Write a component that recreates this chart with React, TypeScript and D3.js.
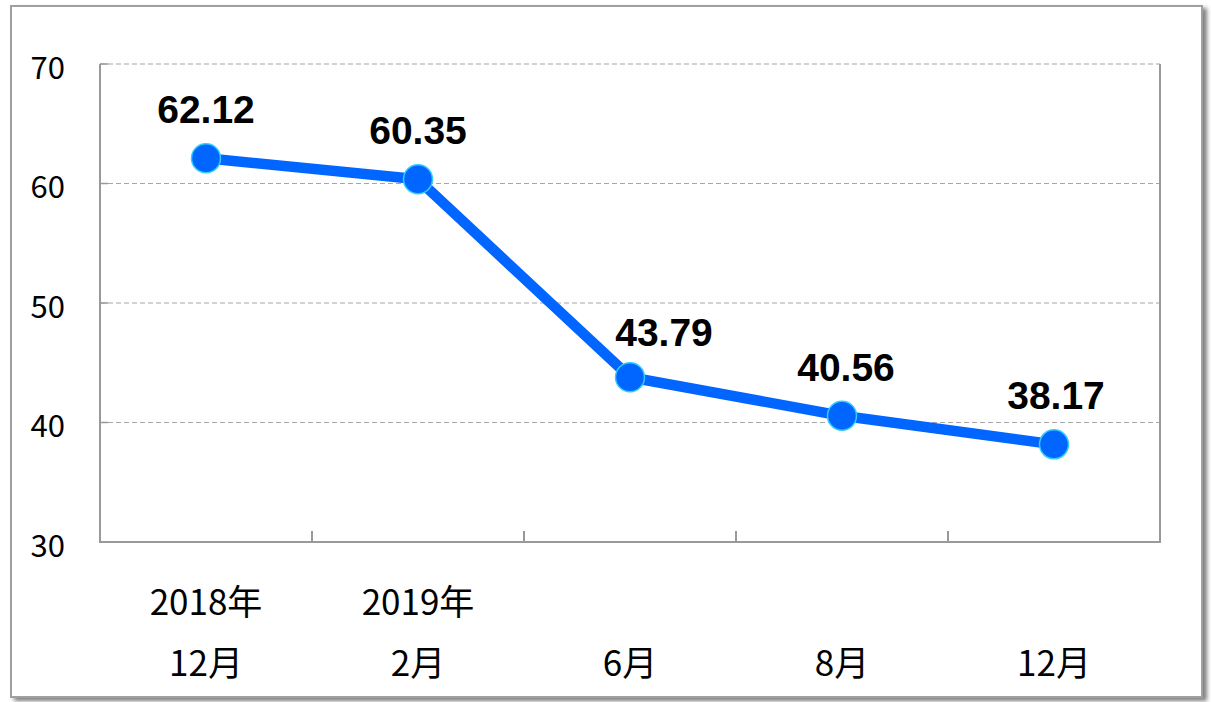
import React from "react";
import * as d3 from "d3";

const categoriesTop = ["2018年", "2019年", "", "", ""];
const categoriesBottom = ["12月", "2月", "6月", "8月", "12月"];
const values = [62.12, 60.35, 43.79, 40.56, 38.17];
const yTicks = [30, 40, 50, 60, 70];

const W = 1211;
const H = 702;
const plot = { left: 100, right: 1160, top: 64, bottom: 542 };
const labelNudgeX = [0, 0, 34, 4, 2];
const labelNudgeY = [-35, -35, -31, -35, -35];

export default function App() {
  const idx = values.map((_, i) => i);
  const x = d3.scaleBand<number>().domain(idx).range([plot.left, plot.right]);
  const y = d3.scaleLinear().domain([30, 70]).range([plot.bottom, plot.top]);
  const cx = (i: number) => (x(i) as number) + x.bandwidth() / 2;
  const line = d3
    .line<number>()
    .x((_, i) => cx(i))
    .y((d) => y(d));
  const boundaries = idx.slice(1).map((i) => x(i) as number);
  const axisFont = "'Noto Sans CJK TC', 'Noto Sans', sans-serif";

  return (
    <svg
      width={W}
      height={H}
      style={{ position: "absolute", left: 0, top: 0, display: "block" }}
    >
      <defs>
        <filter id="shadow" x="-5%" y="-5%" width="110%" height="110%">
          <feDropShadow dx="4" dy="3" stdDeviation="2" floodColor="#000" floodOpacity="0.5" />
        </filter>
      </defs>
      <rect x={0} y={0} width={W} height={H} fill="#fff" />
      <rect
        x={11}
        y={6}
        width={1191}
        height={691}
        fill="#fff"
        stroke="#a0a0a0"
        strokeWidth={2}
        filter="url(#shadow)"
      />
      {yTicks
        .filter((t) => t !== 30)
        .map((t) => (
          <g key={t}>
            <line
              x1={plot.left}
              x2={plot.right}
              y1={y(t)}
              y2={y(t)}
              stroke="#a6a6a6"
              strokeWidth={1.2}
              strokeDasharray="5,3"
            />
            <line
              x1={plot.left}
              x2={plot.left + 8}
              y1={y(t)}
              y2={y(t)}
              stroke="#999"
              strokeWidth={1.5}
            />
          </g>
        ))}
      <line x1={plot.right} x2={plot.right} y1={plot.top} y2={plot.bottom} stroke="#999" strokeWidth={2} />
      <line x1={plot.left} x2={plot.left} y1={plot.top} y2={plot.bottom + 1} stroke="#999" strokeWidth={2} />
      <line x1={plot.left} x2={plot.right + 1} y1={plot.bottom} y2={plot.bottom} stroke="#999" strokeWidth={2} />
      {boundaries.map((b, i) => (
        <line key={i} x1={b} x2={b} y1={plot.bottom} y2={plot.bottom - 11} stroke="#999" strokeWidth={2} />
      ))}
      {yTicks.map((t) => (
        <text
          key={t}
          x={65}
          y={y(t) + 1}
          textAnchor="end"
          dominantBaseline="central"
          fontFamily={axisFont}
          fontSize={31}
          fill="#000"
        >
          {t}
        </text>
      ))}
      {idx.map((i) => (
        <g key={i}>
          {categoriesTop[i] && (
            <text
              x={cx(i)}
              y={599}
              textAnchor="middle"
              dominantBaseline="central"
              fontFamily={axisFont}
              fontSize={35}
              fill="#000"
            >
              {categoriesTop[i]}
            </text>
          )}
          <text
            x={cx(i)}
            y={660}
            textAnchor="middle"
            dominantBaseline="central"
            fontFamily={axisFont}
            fontSize={35}
            fill="#000"
          >
            {categoriesBottom[i]}
          </text>
        </g>
      ))}
      <path d={line(values) || ""} fill="none" stroke="#0066ff" strokeWidth={10.5} strokeLinejoin="round" />
      {values.map((v, i) => (
        <circle key={i} cx={cx(i)} cy={y(v)} r={14.5} fill="#0066ff" stroke="#33ccff" strokeWidth={1.5} />
      ))}
      {values.map((v, i) => (
        <text
          key={i}
          x={cx(i) + labelNudgeX[i]}
          y={y(v) + labelNudgeY[i]}
          textAnchor="middle"
          fontFamily="'Liberation Sans', Arial, sans-serif"
          fontWeight="bold"
          fontSize={39}
          fill="#000"
        >
          {v.toFixed(2)}
        </text>
      ))}
    </svg>
  );
}
